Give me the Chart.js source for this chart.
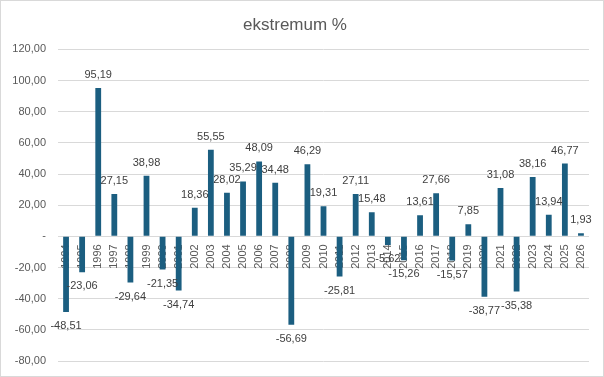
<!DOCTYPE html>
<html>
<head>
<meta charset="utf-8">
<script src="https://cdn.jsdelivr.net/npm/chart.js@4.4.0/dist/chart.umd.min.js"></script>
<style>
  html, body { margin: 0; padding: 0; background: #fff; }
  #wrap { width: 604px; height: 377px; box-sizing: border-box; border: 1px solid #d9d9d9; }
</style>
</head>
<body>
<div id="wrap"><canvas id="ekstremumChart" width="602" height="375"></canvas></div>
<script>
// dane wykresu
var years = ['1994', '1995', '1996', '1997', '1998', '1999', '2000', '2001', '2002', '2003',
    '2004', '2005', '2006', '2007', '2008', '2009', '2010', '2011', '2012', '2013',
    '2014', '2015', '2016', '2017', '2018', '2019', '2020', '2021', '2022', '2023',
    '2024', '2025', '2026'];
var ekstremum = [-48.51, -23.06, 95.19, 27.15, -29.64, 38.98, -21.35, -34.74, 18.36, 55.55,
    28.02, 35.29, 48.09, 34.48, -56.69, 46.29, 19.31, -25.81, 27.11, 15.48,
    -5.62, -15.26, 13.61, 27.66, -15.57, 7.85, -38.77, 31.08, -35.38, 38.16,
    13.94, 46.77, 1.93];
var yTicks = [-80, -60, -40, -20, 0, 20, 40, 60, 80, 100, 120];

function fmt(v) {
    return v.toFixed(2).replace('.', ',');
}

// etykiety wartosci nad / pod slupkami
var valueLabels = {
    id: 'valueLabels',
    afterDatasetsDraw: function(chart) {
        var ctx = chart.ctx;
        var meta = chart.getDatasetMeta(0);
        ctx.save();
        ctx.font = '11px "Liberation Sans", Arial, sans-serif';
        ctx.fillStyle = '#404040';
        ctx.textAlign = 'center';
        ctx.textBaseline = 'middle';
        meta.data.forEach(function(bar, i) {
            var v = ekstremum[i];
            var y = v >= 0 ? bar.y - 13 : bar.y + 14;
            ctx.fillText(fmt(v), bar.x, y);
        });
        ctx.restore();
    }
};

var ctx = document.getElementById('ekstremumChart').getContext('2d');
var chart = new Chart(ctx, {
    type: 'bar',
    data: {
        labels: years,
        datasets: [{
            label: 'ekstremum %',
            data: ekstremum,
            backgroundColor: '#1B5E80',
            categoryPercentage: 1,
            barPercentage: 0.36
        }]
    },
    options: {
        responsive: false,
        animation: false,
        layout: { padding: { top: 11, right: 14, bottom: 15, left: 0 } },
        plugins: {
            legend: { display: false },
            tooltip: { enabled: false },
            title: {
                display: true,
                text: 'ekstremum %',
                color: '#595959',
                font: { family: '"Liberation Sans", Arial, sans-serif', size: 17, weight: 'normal' },
                padding: { top: 3, bottom: 14 }
            }
        },
        scales: {
            x: {
                position: { y: 0 },
                z: 1,
                grid: { display: false, drawTicks: false },
                border: { display: false },
                ticks: {
                    color: '#595959',
                    font: { family: '"Liberation Sans", Arial, sans-serif', size: 11 },
                    minRotation: 90,
                    maxRotation: 90,
                    autoSkip: false,
                    padding: 8
                }
            },
            y: {
                min: -80,
                max: 120,
                afterFit: function(scale) {
                    scale.width = 57;
                    scale.paddingTop = 0;
                    scale.paddingBottom = 0;
                },
                afterBuildTicks: function(scale) {
                    scale.ticks = yTicks.map(function(v) { return { value: v }; });
                },
                grid: { color: '#d9d9d9', drawTicks: false },
                border: { display: false },
                ticks: {
                    color: '#595959',
                    font: { family: '"Liberation Sans", Arial, sans-serif', size: 11 },
                    padding: 12,
                    callback: function(v) { return v === 0 ? '-' : fmt(v); }
                }
            }
        }
    },
    plugins: [valueLabels]
});
</script>
</body>
</html>
